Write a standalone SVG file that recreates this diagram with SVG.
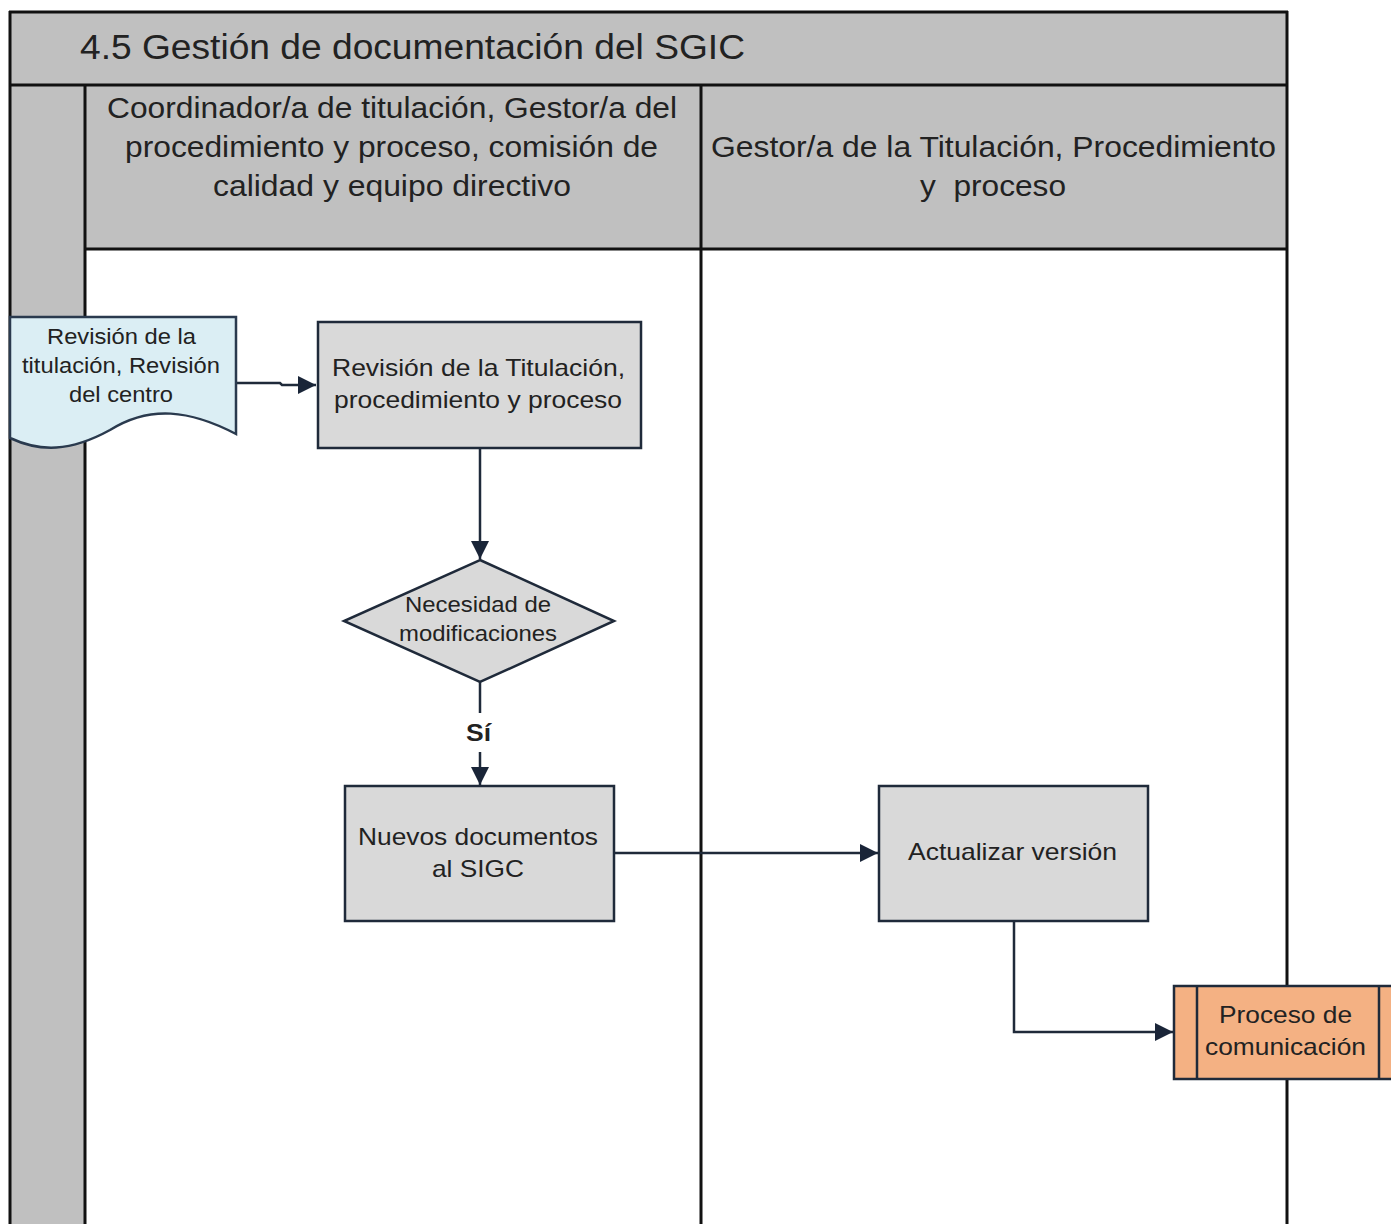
<svg xmlns="http://www.w3.org/2000/svg" width="1391" height="1224" viewBox="0 0 1391 1224">
<style>
text{font-family:"Liberation Sans",Arial,sans-serif;fill:#222;}
.frame{stroke:#111;stroke-width:3;fill:none;}
.hdr{fill:#c0c0c0;}
.box{fill:#d9d9d9;stroke:#1f2a3a;stroke-width:2.5;}
.conn{fill:none;stroke:#1f2a3a;stroke-width:2.5;}
.t24{font-size:24px;}
.t29{font-size:29px;}
</style>
<defs>
<marker id="arrB" viewBox="0 0 10 10" refX="10" refY="5" markerWidth="18" markerHeight="18" orient="auto" markerUnits="userSpaceOnUse">
<path d="M0,0 L10,5 L0,10 z" fill="#1a2538"/>
</marker>
</defs>
<rect width="1391" height="1224" fill="#fff"/>
<g id="pool">
<rect class="hdr" x="10" y="12" width="1277" height="73"/>
<rect class="hdr" x="10" y="86" width="1277" height="163"/>
<rect class="hdr" x="10" y="86" width="74" height="1138"/>
<line class="frame" x1="9" y1="12" x2="1288" y2="12"/>
<line class="frame" x1="10" y1="11" x2="10" y2="1224"/>
<line class="frame" x1="1287" y1="11" x2="1287" y2="1224"/>
<line class="frame" x1="9" y1="85" x2="1288" y2="85" stroke-width="4"/>
<line class="frame" x1="85" y1="85" x2="85" y2="1224"/>
<line class="frame" x1="701" y1="85" x2="701" y2="1224"/>
<line class="frame" x1="85" y1="249" x2="1288" y2="249" stroke-width="2.5"/>
<text x="80" y="59" font-size="35" textLength="665" lengthAdjust="spacingAndGlyphs">4.5 Gestión de documentación del SGIC</text>
<text class="t29" x="107" y="118" textLength="570" lengthAdjust="spacingAndGlyphs">Coordinador/a de titulación, Gestor/a del</text>
<text class="t29" x="125" y="157" textLength="533" lengthAdjust="spacingAndGlyphs">procedimiento y proceso, comisión de</text>
<text class="t29" x="213" y="196" textLength="358" lengthAdjust="spacingAndGlyphs">calidad y equipo directivo</text>
<text class="t29" x="711" y="157" textLength="565" lengthAdjust="spacingAndGlyphs">Gestor/a de la Titulación, Procedimiento</text>
<text class="t29" x="920" y="196" textLength="146" lengthAdjust="spacingAndGlyphs" xml:space="preserve">y  proceso</text>
</g>
<g id="connectors">
<path class="conn" d="M236,383 L280,383 L282,385 L316,385" marker-end="url(#arrB)"/>
<path class="conn" d="M480,448 L480,559" marker-end="url(#arrB)"/>
<path class="conn" d="M480,682 L480,713"/>
<path class="conn" d="M480,752 L480,785" marker-end="url(#arrB)"/>
<path class="conn" d="M614,853 L878,853" marker-end="url(#arrB)"/>
<path class="conn" d="M1014,921 L1014,1032 L1173,1032" marker-end="url(#arrB)"/>
<text x="466" y="741" font-size="23" font-weight="bold" textLength="25" lengthAdjust="spacingAndGlyphs">Sí</text>
</g>
<g id="doc">
<path d="M10,317 L236,317 L236,434 C190,410 150,405 110,430 C70,452 40,452 10,438 Z" fill="#dbeef4" stroke="#2a3a4e" stroke-width="2.5"/>
<text x="47" y="344" font-size="22" textLength="149" lengthAdjust="spacingAndGlyphs">Revisión de la</text>
<text x="22" y="373" font-size="22" textLength="198" lengthAdjust="spacingAndGlyphs">titulación, Revisión</text>
<text x="69" y="402" font-size="22" textLength="104" lengthAdjust="spacingAndGlyphs">del centro</text>
</g>
<g id="revision">
<rect class="box" x="318" y="322" width="323" height="126"/>
<text class="t24" x="332" y="376" textLength="293" lengthAdjust="spacingAndGlyphs">Revisión de la Titulación,</text>
<text class="t24" x="334" y="408" textLength="288" lengthAdjust="spacingAndGlyphs">procedimiento y proceso</text>
</g>
<g id="decision">
<path class="box" d="M480,560 L614,621 L480,682 L344,621 Z"/>
<text x="405" y="612" font-size="22" textLength="146" lengthAdjust="spacingAndGlyphs">Necesidad de</text>
<text x="399" y="641" font-size="22" textLength="158" lengthAdjust="spacingAndGlyphs">modificaciones</text>
</g>
<g id="nuevos">
<rect class="box" x="345" y="786" width="269" height="135"/>
<text class="t24" x="358" y="845" textLength="240" lengthAdjust="spacingAndGlyphs">Nuevos documentos</text>
<text class="t24" x="432" y="877" textLength="92" lengthAdjust="spacingAndGlyphs">al SIGC</text>
</g>
<g id="actualizar">
<rect class="box" x="879" y="786" width="269" height="135"/>
<text class="t24" x="908" y="860" textLength="209" lengthAdjust="spacingAndGlyphs">Actualizar versión</text>
</g>
<g id="comunicacion">
<rect x="1174" y="986" width="230" height="93" fill="#f4b183" stroke="#1f2a3a" stroke-width="2.5"/>
<line x1="1197" y1="986" x2="1197" y2="1079" stroke="#1f2a3a" stroke-width="2.5"/>
<line x1="1379" y1="986" x2="1379" y2="1079" stroke="#1f2a3a" stroke-width="2.5"/>
<text class="t24" x="1219" y="1023" textLength="133" lengthAdjust="spacingAndGlyphs">Proceso de</text>
<text class="t24" x="1205" y="1055" textLength="161" lengthAdjust="spacingAndGlyphs">comunicación</text>
</g>
</svg>
